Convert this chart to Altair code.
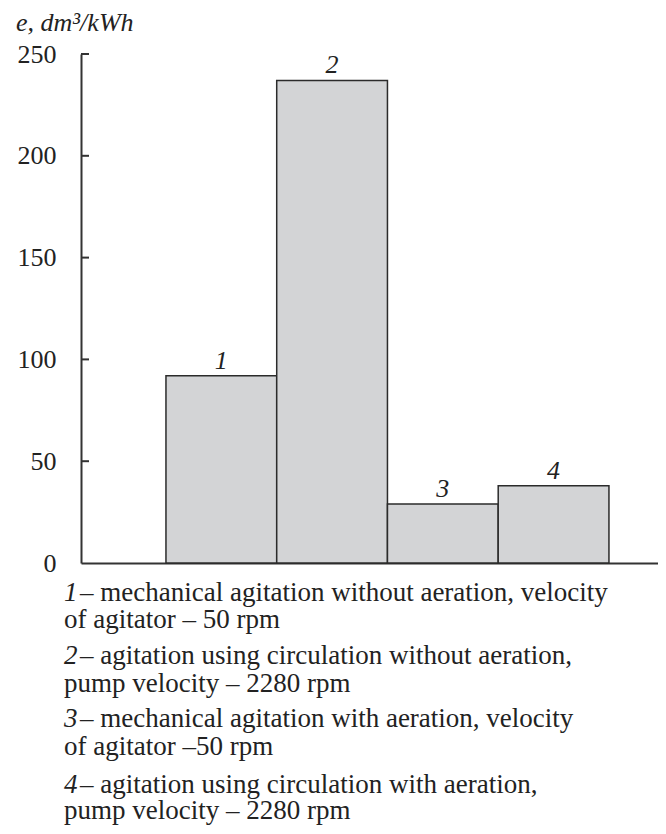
import altair as alt
import pandas as pd

categories = ["1", "2", "3", "4"]
values = [92, 237, 29, 38]
y_ticks = [0, 50, 100, 150, 200, 250]
inner_ticks = [50, 100, 150, 200, 250]

legend_nums = ["1", "2", "3", "4"]
legend_first = [
    "– mechanical agitation without aeration, velocity",
    "– agitation using circulation without aeration,",
    "– mechanical agitation with aeration, velocity",
    "– agitation using circulation with aeration,",
]
legend_second = [
    "of agitator – 50 rpm",
    "pump velocity – 2280 rpm",
    "of agitator –50 rpm",
    "pump velocity – 2280 rpm",
]
title_text = "e, dm³/kWh"

FONT = "Liberation Serif"
INK = "#222222"

df = pd.DataFrame({"cat": categories, "val": values})
ticks_df = pd.DataFrame({"v": inner_ticks})

xscale = alt.Scale(domain=categories, paddingInner=0, paddingOuter=0.605, align=0.634)
yscale = alt.Scale(domain=[0, 250], nice=False)

bars = alt.Chart(df).mark_bar(
    fill="#d3d4d6", stroke="#2b2b2b", strokeWidth=1.5
).encode(
    x=alt.X("cat:N", scale=xscale, sort=categories,
            axis=alt.Axis(labels=False, ticks=False, title=None, domainColor="#333333",
                          domainWidth=2, grid=False)),
    y=alt.Y("val:Q", scale=yscale,
            axis=alt.Axis(values=y_ticks, ticks=False, labelPadding=25, title=None,
                          labelFont=FONT, labelFontSize=26, labelColor=INK,
                          domainColor="#333333", domainWidth=2, grid=False,
                          labelBaseline="middle")),
)

labels = alt.Chart(df).mark_text(
    font=FONT, fontSize=26, fontStyle="italic", baseline="alphabetic", dy=-7, color=INK
).encode(
    x=alt.X("cat:N", scale=xscale, sort=categories, bandPosition=0.5),
    y=alt.Y("val:Q", scale=yscale),
    text="cat:N",
)

tick_rules = alt.Chart(ticks_df).mark_rule(color="#333333", strokeWidth=2).encode(
    y=alt.Y("v:Q", scale=yscale),
    x=alt.value(0),
    x2=alt.value(8),
)

title = alt.Chart(pd.DataFrame({"t": [title_text]})).mark_text(
    font=FONT, fontSize=26, fontStyle="italic", align="left", baseline="middle", color=INK
).encode(x=alt.value(-65), y=alt.value(-31), text="t:N")

layers = [bars, labels, tick_rules, title]

line1_y = [539, 602, 665, 731]
line2_y = [566, 630, 693, 757]
for i in range(4):
    d = pd.DataFrame({"n": [legend_nums[i]], "a": [legend_first[i]], "b": [legend_second[i]]})
    base = alt.Chart(d)
    layers.append(base.mark_text(font=FONT, fontSize=27, fontStyle="italic", align="left",
                                 baseline="middle", color=INK)
                  .encode(x=alt.value(-17), y=alt.value(line1_y[i]), text="n:N"))
    layers.append(base.mark_text(font=FONT, fontSize=27, align="left",
                                 baseline="middle", color=INK)
                  .encode(x=alt.value(-1), y=alt.value(line1_y[i]), text="a:N"))
    layers.append(base.mark_text(font=FONT, fontSize=27, align="left",
                                 baseline="middle", color=INK)
                  .encode(x=alt.value(-17), y=alt.value(line2_y[i]), text="b:N"))

chart = alt.layer(*layers).properties(
    width=577, height=509,
    autosize=alt.AutoSizeParams(type="none"),
    padding={"left": 73, "top": 46, "right": 0, "bottom": 263},
).configure_view(stroke=None)

chart.save("out.html", embed_options={"renderer": "svg", "actions": False})
